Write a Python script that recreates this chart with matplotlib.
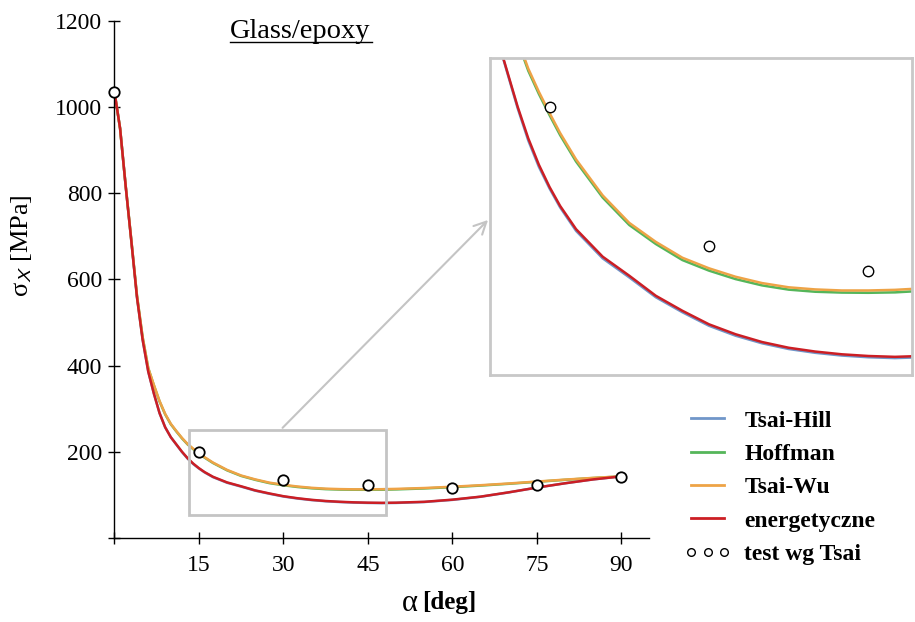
import matplotlib.pyplot as plt
from matplotlib.lines import Line2D
from matplotlib.patches import Rectangle

plt.rcParams['font.family'] = ['Liberation Serif', 'DejaVu Serif']
plt.rcParams['mathtext.fontset'] = 'stix'

# fibre angle [deg] and strength sigma_X [MPa]
alpha = [0, 1, 2, 3, 4, 5, 6, 7, 8, 9, 10, 11, 12, 13, 14, 15, 16, 17.5, 20, 22.5,
         25, 27.5, 30, 32.5, 35, 37.5, 40, 42.5, 45, 47.5, 50, 55, 60, 65, 70, 75, 80, 85, 90]

tsai_hill = [1035, 950, 815, 688, 558, 460, 386, 335, 290, 257, 234, 216.5, 199.3, 184, 171.5,
             161.3, 152.3, 141.2, 128.2, 119.2, 109.8, 102.7, 96.3, 91.6, 88, 85.3, 83.5, 82.2,
             81.4, 81, 81.4, 83.5, 88.5, 95.7, 105.8, 117, 127, 136, 143]
hoffman = [1035, 950, 816, 690, 562, 466, 394, 354, 317, 287, 264, 247, 231, 217, 206, 196,
           186.5, 174, 157, 144, 135, 127.4, 122.4, 118.4, 115.4, 113.4, 112.4, 112, 111.9,
           112.1, 112.8, 115, 118, 121.7, 125.8, 130.4, 135, 139.2, 143]
tsai_wu = [1035, 950, 816, 690, 562, 466, 394, 355, 318, 288, 265, 248, 232, 218, 207, 197,
           187.5, 175, 158, 145, 136, 128.5, 123.5, 119.5, 116.5, 114.5, 113.5, 113, 113,
           113.3, 114, 116, 119, 122.5, 126.5, 131, 135.5, 139.5, 143]
energetyczne = [1035, 950, 815, 688, 558, 460, 386, 335, 290, 257, 234, 217, 200, 185, 172.5,
                162, 153, 142, 129, 120, 110.5, 103.4, 97, 92.3, 88.6, 85.9, 84.1, 82.8, 82,
                81.6, 82, 84, 89, 96, 106, 117, 127, 136, 143]

# test results (Tsai)
test_alpha = [0, 15, 30, 45, 60, 75, 90]
test_sigma = [1035, 200, 134, 122, 115, 122, 142]

x_ticks = [0, 15, 30, 45, 60, 75, 90]
x_ticklabels = ['', '15', '30', '45', '60', '75', '90']
y_ticks = [0, 200, 400, 600, 800, 1000, 1200]
y_ticklabels = ['', '200', '400', '600', '800', '1000', '1200']

series = [('Tsai-Hill', tsai_hill, '#7096c9'),
          ('Hoffman', hoffman, '#55b65a'),
          ('Tsai-Wu', tsai_wu, '#eea346'),
          ('energetyczne', energetyczne, '#cc1e24')]

fig = plt.figure(figsize=(9.15, 6.22), dpi=100)
ax = fig.add_axes([0.1251, 0.1350, 0.5847, 0.8317])

for name, vals, col in series:
    ax.plot(alpha, vals, color=col, lw=1.8, label=name)
ax.plot(test_alpha, test_sigma, ls='none', marker='o', ms=7.5, mfc='white', mec='black',
        mew=1.3, clip_on=False, zorder=5)

ax.set_xlim(0, 95)
ax.set_ylim(0, 1200)
ax.set_xticks(x_ticks)
ax.set_xticklabels(x_ticklabels)
ax.set_yticks(y_ticks)
ax.set_yticklabels(y_ticklabels)
ax.spines['top'].set_visible(False)
ax.spines['right'].set_visible(False)
for s in ['left', 'bottom']:
    ax.spines[s].set_linewidth(1.0)
ax.tick_params(axis='both', direction='inout', length=8, width=1.0, labelsize=17)
ax.tick_params(axis='x', pad=8)
ax.tick_params(axis='y', pad=5)

# axis labels: greek letter regular, unit part as in the original
ax.set_xlabel('')
ax.text(0.552, -0.098, 'α', transform=ax.transAxes, fontsize=22, ha='center', va='top')
ax.text(0.575, -0.103, '[deg]', transform=ax.transAxes, fontsize=18, fontweight='bold',
        ha='left', va='top')
ax.set_ylabel(r'σ$_{\mathsf{X}}$ [MPa]', fontsize=19)
ax.yaxis.set_label_coords(-0.15, 0.566)

# zoom frame on the main plot
ax.add_patch(Rectangle((13.3, 53), 48.2 - 13.3, 251 - 53, fill=False,
                       edgecolor='#c4c4c4', lw=2, zorder=4))
ax.annotate('', xy=(0.5355, 0.6495), xycoords='figure fraction',
            xytext=(29.5, 251), textcoords='data',
            arrowprops=dict(arrowstyle='->', color='#c4c4c4', lw=1.5, mutation_scale=22))

# title with underline
fig.text(230 / 915, 1 - 37.5 / 622, 'Glass/epoxy', fontsize=20.5, ha='left', va='baseline')
fig.add_artist(Line2D([230 / 915, 372 / 915], [1 - 41.5 / 622] * 2, color='black', lw=1.0))

# inset
axin = fig.add_axes([0.5355, 0.3971, 0.4612, 0.5096])
for name, vals, col in series:
    axin.plot(alpha, vals, color=col, lw=1.8)
axin.plot(test_alpha, test_sigma, ls='none', marker='o', ms=7.5, mfc='white', mec='black',
          mew=1.0, zorder=5)
axin.set_xlim(9.4, 49.1)
axin.set_ylim(73, 223)
axin.set_xticks([])
axin.set_yticks([])
for s in axin.spines.values():
    s.set_edgecolor('#c8c8c8')
    s.set_linewidth(2)

# legend
handles = [Line2D([], [], color=col, lw=2) for _, _, col in series]
handles.append(Line2D([], [], ls='none', marker='o', ms=5.5, mfc='white', mec='black', mew=1.0))
labels = [name for name, _, _ in series] + ['test wg Tsai']
fig.legend(handles, labels, loc='upper left', bbox_to_anchor=(684 / 915, 1 - 410 / 622),
           frameon=False, numpoints=3, handlelength=2.0, handletextpad=0.55,
           labelspacing=0.5, borderpad=0, borderaxespad=0,
           prop={'family': 'Liberation Serif', 'size': 17, 'weight': 'bold'})

fig.savefig('out.png', dpi=100)
